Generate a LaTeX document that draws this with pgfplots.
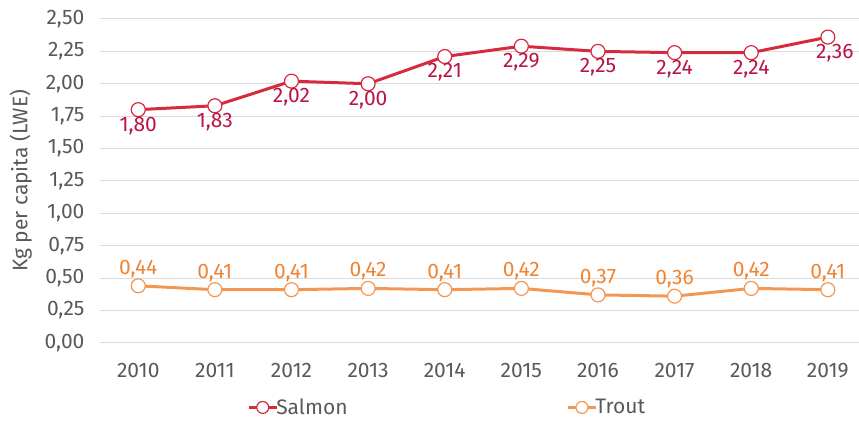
\documentclass[border=0pt]{standalone}
\usepackage{fontspec}
\setmainfont{Fira Sans}
\usepackage{pgfplots}
\usepackage{pgfplotstable}
\pgfplotsset{compat=1.18}
\definecolor{salmonline}{RGB}{213,43,62}
\definecolor{salmontext}{RGB}{186,20,68}
\definecolor{troutline}{RGB}{243,152,84}
\definecolor{trouttext}{RGB}{238,132,52}
\definecolor{txtgray}{RGB}{89,89,89}
\definecolor{gridgray}{RGB}{220,220,220}

% year, value, label shift
\pgfplotstableread{
year val dx
2010 1.80 0
2011 1.83 0
2012 2.02 0
2013 2.00 0
2014 2.21 0
2015 2.29 0
2016 2.25 0
2017 2.24 0
2018 2.24 0
2019 2.36 7
}\salmon
\pgfplotstableread{
year val dx
2010 0.44 0
2011 0.41 0
2012 0.41 0
2013 0.42 0
2014 0.41 0
2015 0.42 0
2016 0.37 0
2017 0.36 0
2018 0.42 0
2019 0.41 0
}\trout

\newcommand\chartfont{\fontsize{21}{24}\selectfont}

\begin{document}
\begin{tikzpicture}
\begin{axis}[
  scale only axis,
  width=759pt, height=324pt,
  xmin=2009.5, xmax=2019.4,
  ymin=0, ymax=2.5,
  xtick={2010,...,2019},
  ytick={0,0.25,...,2.5},
  axis line style={draw=none},
  major tick length=0pt,
  ymajorgrids=true,
  grid style={gridgray, line width=1pt},
  /pgf/number format/assume math mode=true,
  xticklabel style={font=\chartfont, text=txtgray,
    /pgf/number format/1000 sep={}, yshift=-17pt},
  yticklabel style={font=\chartfont, text=txtgray,
    /pgf/number format/use comma, /pgf/number format/fixed,
    /pgf/number format/fixed zerofill, /pgf/number format/precision=2},
  yticklabel shift=12pt,
  ylabel={Kg per capita (LWE)},
  ylabel style={font=\chartfont, text=txtgray},
  every axis y label/.append style={at={(ticklabel cs:0.5)}, yshift=6pt},
  legend columns=2,
  legend image code/.code={
    \draw[line width=3pt, mark repeat=2, mark phase=2, mark size=6pt]
      plot coordinates {(0pt,0pt) (14pt,0pt) (28pt,0pt)};},
  legend style={draw=none, fill=none, at={(0.19,-0.16)}, anchor=north west,
    font=\chartfont, text=txtgray,
    /tikz/every odd column/.append style={column sep=-4pt},
    /tikz/every even column/.append style={column sep=217pt}},
  nodes near coords,
  point meta=explicit,
  visualization depends on={\thisrow{dx} \as \dx},
  every node near coord/.append style={font=\chartfont,
    anchor=center, xshift=\dx pt,
    /pgf/number format/use comma, /pgf/number format/fixed,
    /pgf/number format/fixed zerofill, /pgf/number format/precision=2},
]
\addplot[salmonline, line width=3pt, mark=*, mark size=7pt,
  mark options={fill=white, line width=1.2pt},
  every node near coord/.append style={text=salmontext, yshift=-16pt}]
  table[x=year, y=val, meta=val] {\salmon};
\addlegendentry{Salmon}
\addplot[troutline, line width=3pt, mark=*, mark size=7pt,
  mark options={fill=white, line width=1.2pt},
  every node near coord/.append style={text=trouttext, yshift=17pt}]
  table[x=year, y=val, meta=val] {\trout};
\addlegendentry{Trout}
\end{axis}
\useasboundingbox (-100pt,-73pt) rectangle (759pt,343pt);
\end{tikzpicture}
\end{document}
